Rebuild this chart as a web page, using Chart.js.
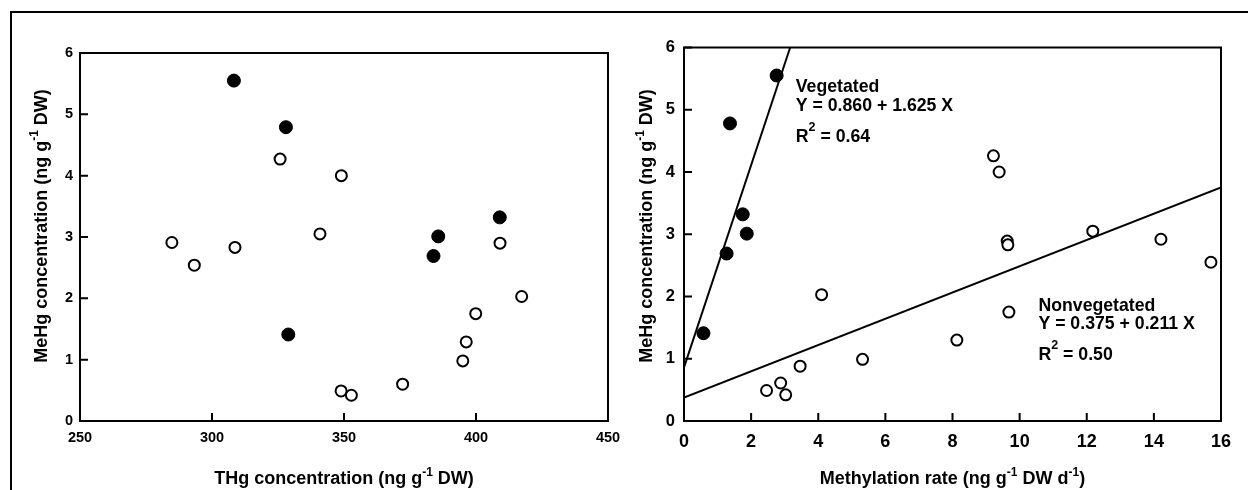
<!DOCTYPE html>
<html><head><meta charset="utf-8">
<script src="https://cdn.jsdelivr.net/npm/chart.js@4.4.1/dist/chart.umd.min.js"></script>
<style>
html,body{margin:0;padding:0;background:#fff;width:1248px;height:490px;overflow:hidden;}
#frame{position:absolute;left:10px;top:11px;width:1300px;height:600px;border-top:2px solid #000;border-left:2px solid #000;}
.box{position:absolute;top:0;height:490px;}
#b1{left:0;width:620px;}
#b2{left:620px;width:628px;}
</style></head><body>
<div id="frame"></div>
<div class="box" id="b1"><canvas id="c1"></canvas></div>
<div class="box" id="b2"><canvas id="c2"></canvas></div>
<script>
// ---- data ----
const THG_VEG  = [308.3, 328.0, 328.9, 385.7, 383.9, 409.0];
const MEHG_VEG = [5.55, 4.79, 1.41, 3.01, 2.69, 3.32];
const THG_NON  = [325.8, 349.0, 340.9, 284.8, 293.3, 308.7, 409.1, 417.3, 399.9, 396.3, 395.0, 372.2, 348.9, 352.8];
const MEHG_NON = [4.27, 4.00, 3.05, 2.91, 2.54, 2.83, 2.90, 2.03, 1.75, 1.29, 0.98, 0.60, 0.49, 0.42];

const METH_VEG   = [2.76, 1.37, 0.58, 1.87, 1.27, 1.75];
const MEHG_VEG_R = [5.55, 4.78, 1.41, 3.01, 2.69, 3.32];
const METH_NON   = [9.22, 9.39, 12.18, 14.21, 15.70, 9.63, 9.65, 4.10, 9.68, 8.13, 5.32, 3.46, 2.88, 2.46, 3.03];
const MEHG_NON_R = [4.26, 4.00, 3.05, 2.92, 2.55, 2.89, 2.83, 2.03, 1.75, 1.30, 0.99, 0.88, 0.61, 0.49, 0.42];

const FIT_VEG = [0.860, 1.625];   // intercept, slope
const FIT_NON = [0.375, 0.211];

const Y_TICKS      = [0, 1, 2, 3, 4, 5, 6];
const X_TICKS_THG  = [250, 300, 350, 400, 450];
const X_TICKS_METH = [0, 2, 4, 6, 8, 10, 12, 14, 16];

// ---- helpers ----
const FONT = '"Liberation Sans", Arial, Helvetica, sans-serif';
Chart.defaults.font.family = FONT;
Chart.defaults.color = '#000';
const T18 = 'bold 18px ' + FONT;
const SUP = 'bold 12px ' + FONT;
const N17 = 'bold 17.7px ' + FONT;
const SUPR = 'bold 12.5px ' + FONT;

function pts(xs, ys) { return xs.map((x, i) => ({ x: x, y: ys[i] })); }
function fitLine(fit, x0, x1, ymax) {
  let xe = x1;
  if (fit[0] + fit[1] * x1 > ymax) xe = (ymax - fit[0]) / fit[1];
  return [{ x: x0, y: fit[0] + fit[1] * x0 }, { x: xe, y: fit[0] + fit[1] * xe }];
}
function rich(ctx, segs, x, y, align) {
  let w = 0;
  const ms = segs.map(s => { ctx.font = s.f; const m = ctx.measureText(s.t).width; w += m; return m; });
  let cx = align === 'center' ? x - w / 2 : x;
  ctx.textAlign = 'left'; ctx.textBaseline = 'alphabetic'; ctx.fillStyle = '#000';
  segs.forEach((s, i) => { ctx.font = s.f; ctx.fillText(s.t, cx, y - (s.r || 0)); cx += ms[i]; });
}
function fixedTicks(arr) { return function (scale) { scale.ticks = arr.map(v => ({ value: v })); }; }

const frameTicks = {
  id: 'frameTicks',
  beforeDatasetsDraw(chart) {
    const { ctx, chartArea: a, scales: { x, y } } = chart;
    ctx.save();
    ctx.strokeStyle = '#000'; ctx.lineWidth = 2;
    ctx.strokeRect(a.left, a.top, a.right - a.left, a.bottom - a.top);
    ctx.beginPath();
    x.ticks.forEach(t => { const p = x.getPixelForValue(t.value); ctx.moveTo(p, a.bottom); ctx.lineTo(p, a.bottom - 8); });
    y.ticks.forEach(t => { const p = y.getPixelForValue(t.value); ctx.moveTo(a.left, p); ctx.lineTo(a.left + 8, p); });
    ctx.stroke();
    ctx.restore();
  }
};

function decor(cfg) {
  return {
    id: 'decor',
    afterDraw(chart) {
      const { ctx, chartArea: a, scales: { x, y } } = chart;
      ctx.save();
      rich(ctx, cfg.xTitle, (a.left + a.right) / 2, cfg.xTitleY, 'center');
      ctx.save();
      ctx.translate(cfg.yTitleX, cfg.yTitleCY);
      ctx.rotate(-Math.PI / 2);
      rich(ctx, cfg.yTitle, 0, 0, 'center');
      ctx.restore();
      (cfg.notes || []).forEach(n => {
        const px = x.getPixelForValue(n.at[0]), py = y.getPixelForValue(n.at[1]);
        n.lines.forEach(l => rich(ctx, l.segs, px, py + l.dy, 'left'));
      });
      ctx.restore();
    }
  };
}

function scatterSet(data, filled) {
  return {
    data: data, showLine: false,
    pointRadius: filled ? 6.5 : 5.5,
    pointBorderWidth: filled ? 1 : 2,
    pointBackgroundColor: filled ? '#000' : '#fff',
    pointBorderColor: '#000',
    pointHoverRadius: filled ? 6.5 : 5.5
  };
}
function lineSet(data) {
  return { data: data, showLine: true, borderColor: '#000', borderWidth: 2, pointRadius: 0, pointHoverRadius: 0, fill: false };
}

function makeChart(id, datasets, xr, xt, yArea, tickFonts, pads, plugin) {
  return new Chart(document.getElementById(id), {
    type: 'scatter',
    data: { datasets: datasets },
    options: {
      responsive: true, maintainAspectRatio: false, animation: false,
      events: [],
      layout: { padding: { top: yArea.top, right: yArea.right, left: 0, bottom: 0 } },
      plugins: { legend: { display: false }, tooltip: { enabled: false } },
      scales: {
        x: {
          type: 'linear', min: xr[0], max: xr[1],
          afterBuildTicks: fixedTicks(xt),
          afterFit: s => { s.height = yArea.xh; s.paddingLeft = 0; s.paddingRight = 0; },
          grid: { display: false, drawTicks: false }, border: { display: false },
          ticks: { font: { size: tickFonts[0], weight: 'bold' }, color: '#000', padding: pads[0], maxRotation: 0, autoSkip: false }
        },
        y: {
          type: 'linear', min: 0, max: 6,
          afterBuildTicks: fixedTicks(Y_TICKS),
          afterFit: s => { s.width = yArea.yw; s.paddingTop = 0; s.paddingBottom = 0; },
          grid: { display: false, drawTicks: false }, border: { display: false },
          ticks: { font: { size: tickFonts[1], weight: 'bold' }, color: '#000', padding: pads[1], autoSkip: false }
        }
      }
    },
    plugins: [frameTicks, plugin]
  });
}

// ---- left panel ----
makeChart('c1',
  [scatterSet(pts(THG_VEG, MEHG_VEG), true), scatterSet(pts(THG_NON, MEHG_NON), false)],
  [250, 450], X_TICKS_THG,
  { top: 53, right: 12, yw: 80, xh: 69 },
  [14.5, 14.5], [8, 7],
  decor({
    xTitle: [{ t: 'THg concentration (ng g', f: T18 }, { t: '-1', f: SUP, r: 8.5 }, { t: ' DW)', f: T18 }],
    xTitleY: 484,
    yTitle: [{ t: 'MeHg concentration (ng g', f: T18 }, { t: '-1', f: SUP, r: 8.5 }, { t: ' DW)', f: T18 }],
    yTitleX: 46.5, yTitleCY: 226
  })
);

// ---- right panel ----
makeChart('c2',
  [scatterSet(pts(METH_VEG, MEHG_VEG_R), true), scatterSet(pts(METH_NON, MEHG_NON_R), false),
   lineSet(fitLine(FIT_VEG, 0, 16, 6)), lineSet(fitLine(FIT_NON, 0, 16, 6))],
  [0, 16], X_TICKS_METH,
  { top: 47.5, right: 27, yw: 64, xh: 69 },
  [18, 16.5], [10, 9],
  decor({
    xTitle: [{ t: 'Methylation rate (ng g', f: T18 }, { t: '-1', f: SUP, r: 8.5 }, { t: ' DW d', f: T18 }, { t: '-1', f: SUP, r: 8.5 }, { t: ')', f: T18 }],
    xTitleY: 484,
    yTitle: [{ t: 'MeHg concentration (ng g', f: T18 }, { t: '-1', f: SUP, r: 8.5 }, { t: ' DW)', f: T18 }],
    yTitleX: 32, yTitleCY: 226,
    notes: [
      { at: [3.33, 5.29], lines: [
        { dy: 0, segs: [{ t: 'Vegetated', f: N17 }] },
        { dy: 19.3, segs: [{ t: 'Y = 0.860 + 1.625 X', f: N17 }] },
        { dy: 50, segs: [{ t: 'R', f: N17 }, { t: '2', f: SUPR, r: 11 }, { t: ' = 0.64', f: N17 }] }
      ] },
      { at: [10.56, 1.77], lines: [
        { dy: 0, segs: [{ t: 'Nonvegetated', f: N17 }] },
        { dy: 18, segs: [{ t: 'Y = 0.375 + 0.211 X', f: N17 }] },
        { dy: 49.3, segs: [{ t: 'R', f: N17 }, { t: '2', f: SUPR, r: 11 }, { t: ' = 0.50', f: N17 }] }
      ] }
    ]
  })
);
</script></body></html>
